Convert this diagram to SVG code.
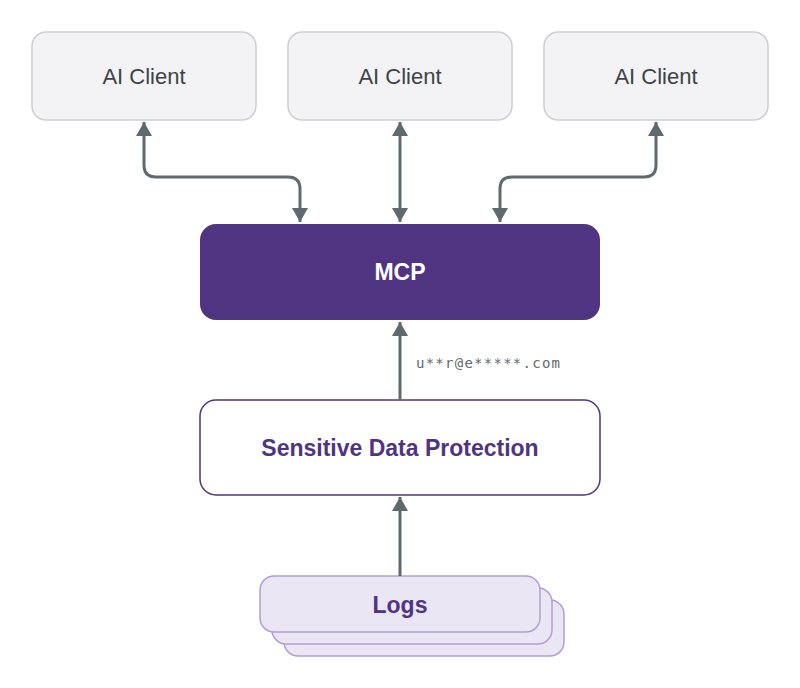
<svg xmlns="http://www.w3.org/2000/svg" width="800" height="688" viewBox="0 0 800 688">
<style>
.client{fill:#f3f3f5;stroke:#d0d0d3;stroke-width:1.5}
.ct{font-family:"Helvetica","Liberation Sans",Arial,sans-serif;font-size:22px;fill:#3d4349;text-anchor:middle}
.bt{font-family:"Liberation Sans",Arial,sans-serif;font-size:23px;font-weight:bold;text-anchor:middle}
.log{fill:#ebe6f4;stroke:#b39fd3;stroke-width:1.5}
.c{fill:none;stroke:#5f6a6e;stroke-width:3}
</style>
<defs>
<marker id="h" viewBox="0 0 14 16" refX="14" refY="8" markerWidth="14" markerHeight="16" markerUnits="userSpaceOnUse" orient="auto-start-reverse">
<path d="M0,0 L14,8 L0,16 z" fill="#5f6a6e"/>
</marker>
</defs>
<g id="client1"><rect class="client" x="32" y="32" width="224" height="88" rx="14"/><text class="ct" x="144" y="84">AI Client</text></g>
<g id="client2"><rect class="client" x="288" y="32" width="224" height="88" rx="14"/><text class="ct" x="400" y="84">AI Client</text></g>
<g id="client3"><rect class="client" x="544" y="32" width="224" height="88" rx="14"/><text class="ct" x="656" y="84">AI Client</text></g>
<g id="mcp"><rect x="200" y="224" width="400" height="96" rx="16" fill="#4f3581"/><text class="bt" x="400" y="280" fill="#fff">MCP</text></g>
<g id="sdp"><rect x="200" y="400" width="400" height="95" rx="16" fill="#fff" stroke="#4f3581" stroke-width="1.5"/><text class="bt" x="400" y="456" fill="#4f3581">Sensitive Data Protection</text></g>
<g id="logs">
<rect class="log" x="284" y="600" width="280" height="56" rx="14"/>
<rect class="log" x="272" y="588" width="280" height="56" rx="14"/>
<rect class="log" x="260" y="576" width="280" height="56" rx="14"/>
<text class="bt" x="400" y="613" fill="#4f3581">Logs</text>
</g>
<g id="connectors">
<path class="c" d="M144,122 V165 Q144,177 156,177 H288 Q300,177 300,189 V222" marker-start="url(#h)" marker-end="url(#h)"/>
<path class="c" d="M400,122 V222" marker-start="url(#h)" marker-end="url(#h)"/>
<path class="c" d="M656,122 V165 Q656,177 644,177 H512 Q500,177 500,189 V222" marker-start="url(#h)" marker-end="url(#h)"/>
<path class="c" d="M400,400 V322" marker-end="url(#h)"/>
<path class="c" d="M400,576 V497" marker-end="url(#h)"/>
<text x="416" y="368" font-family="'DejaVu Sans Mono',monospace" font-size="14" textLength="144" lengthAdjust="spacing" fill="#5f6a6e">u**r@e*****.com</text>
</g>
</svg>
